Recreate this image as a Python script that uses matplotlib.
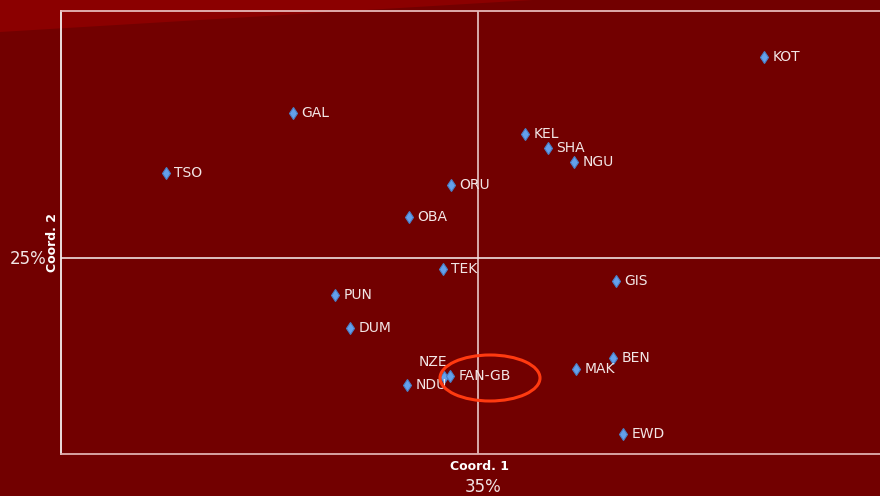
import numpy as np
import matplotlib.pyplot as plt
from matplotlib.patches import Ellipse, Polygon

names = ["KOT", "GAL", "KEL", "SHA", "NGU", "TSO", "ORU", "OBA", "TEK", "GIS",
         "PUN", "DUM", "BEN", "MAK", "NZE", "FAN-GB", "NDU", "EWD"]
coord1 = [1.43, -0.925, 0.235, 0.35, 0.48, -1.56, -0.135, -0.345, -0.175, 0.69,
          -0.715, -0.64, 0.675, 0.49, -0.17, -0.14, -0.355, 0.725]
coord2 = [1.005, 0.725, 0.62, 0.55, 0.48, 0.425, 0.365, 0.205, -0.055, -0.115,
          -0.185, -0.35, -0.5, -0.555, -0.595, -0.59, -0.635, -0.88]
pct1 = "35%"
pct2 = "25%"

fig = plt.figure(figsize=(8.8, 4.96), dpi=100)
fig.patch.set_facecolor('#720000')

# lighter wedge in the top left corner
fig.patches.append(Polygon([(0, 1), (533 / 880, 1), (0, 1 - 32 / 496)],
                           closed=True, transform=fig.transFigure,
                           facecolor='#8b0000', edgecolor='none', zorder=-5))

ax = fig.add_axes([61 / 880, 1 - 454 / 496, (895 - 61) / 880, (454 - 11) / 496])
ax.set_facecolor('none')
ax.set_xlim(-2.085, 2.085)
ax.set_ylim(-0.98, 1.235)
ax.set_xticks([])
ax.set_yticks([])
ax.spines['left'].set_color('#f4f0f0')
ax.spines['top'].set_color('#e8b8b8')
ax.spines['bottom'].set_color('#e0b0b0')
ax.spines['right'].set_visible(False)
for s in ax.spines.values():
    s.set_linewidth(1.3)

ax.axvline(0, color='#e8c8c8', lw=1.2)
ax.axhline(0, color='#f0e0e0', lw=1.2)

ax.plot(coord1, coord2, 'd', color='#64a0ec', mec='#4a80c8', mew=0.8,
        ms=6.5, ls='none', zorder=3)

for n, x, y in zip(names, coord1, coord2):
    if n == "NZE":
        ax.annotate(n, (x, y), xytext=(2, 6), textcoords='offset points',
                    ha='right', va='bottom', color='#f2e6e6', fontsize=10)
    else:
        ax.annotate(n, (x, y), xytext=(6, 0), textcoords='offset points',
                    ha='left', va='center', color='#f2e6e6', fontsize=10)

ax.add_patch(Ellipse((0.06, -0.6), 0.5, 0.23, fill=False,
                     edgecolor='#ff3a10', lw=2.2, zorder=4))

fig.text(480 / 880, 1 - 466 / 496, "Coord. 1", color='white', fontsize=9,
         fontweight='bold', ha='center', va='center')
fig.text(483 / 880, 1 - 487 / 496, pct1, color='#f2e6e6', fontsize=12,
         ha='center', va='center')
fig.text(52 / 880, 1 - 242 / 496, "Coord. 2", color='white', fontsize=9,
         fontweight='bold', ha='center', va='center', rotation=90)
fig.text(28 / 880, 1 - 259 / 496, pct2, color='#f2e6e6', fontsize=12,
         ha='center', va='center')

fig.savefig('out.png', dpi=100, facecolor=fig.get_facecolor())
